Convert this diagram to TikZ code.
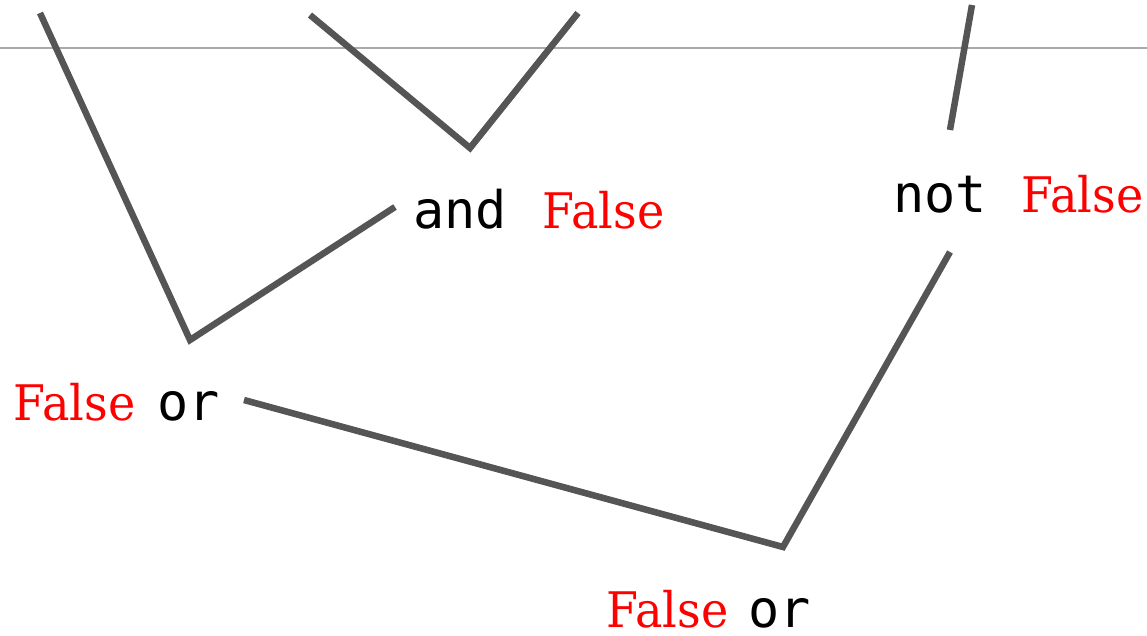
\documentclass[tikz,border=0pt]{standalone}
\usepackage{fontspec}
\setmainfont{DejaVu Serif}
\setmonofont{DejaVu Sans Mono}
\usetikzlibrary{positioning}
\definecolor{kante}{RGB}{85,85,85}
\definecolor{linie}{RGB}{170,170,170}
\definecolor{wert}{RGB}{255,0,0}

\begin{document}
\begin{tikzpicture}[
  x=0.02cm, y=-0.02cm,
  font=\fontsize{27.9}{32}\selectfont,
  ast/.style={line width=3.7pt, kante},
  op/.style={anchor=base west, inner sep=0pt, font=\fontsize{29.5}{34}\selectfont\ttfamily},
  val/.style={anchor=base west, inner sep=0pt, text=wert, xscale=0.94, transform shape}
]
\useasboundingbox (0,0) rectangle (1147,636);

% ---------- obere Grenzlinie -------------------------------------
\draw[linie, line width=1.1pt] (0,48) -- (1147,48);

% ---------- Texte ------------------------------------------------
\node[op]  (und)   at (413,228) {and};
\node[val] (undF)  at (542,228) {False};
\node[op]  (nicht) at (893,212) {not};
\node[val] (nichtF) at (1021,212) {False};
\node[val] (oderAF) at (13,420) {False};
\node[op]  (oderA) at (157,420) {or};
\node[val] (oderBF) at (606,627) {False};
\node[op]  (oderB) at (748,627) {or};

% ---------- Knickpunkte ------------------------------------------
\coordinate (k1) at (40,13);
\coordinate (k2) at (190,340);
\coordinate (k3) at (395,207);
\coordinate (k4) at (310,15);
\coordinate (k5) at (470,148);
\coordinate (k6) at (578,13);
\coordinate (k7) at (972,5);
\coordinate (k8) at (950,130);
\coordinate (k9) at (244,400);
\coordinate (k10) at (783,547);
\coordinate (k11) at (950,252);

% ---------- Kanten -----------------------------------------------
\draw[ast] (k1) -- (k2) -- (k3);
\draw[ast] (k4) -- (k5) -- (k6);
\draw[ast] (k7) -- (k8);
\draw[ast] (k9) -- (k10) -- (k11);

\end{tikzpicture}
\end{document}
